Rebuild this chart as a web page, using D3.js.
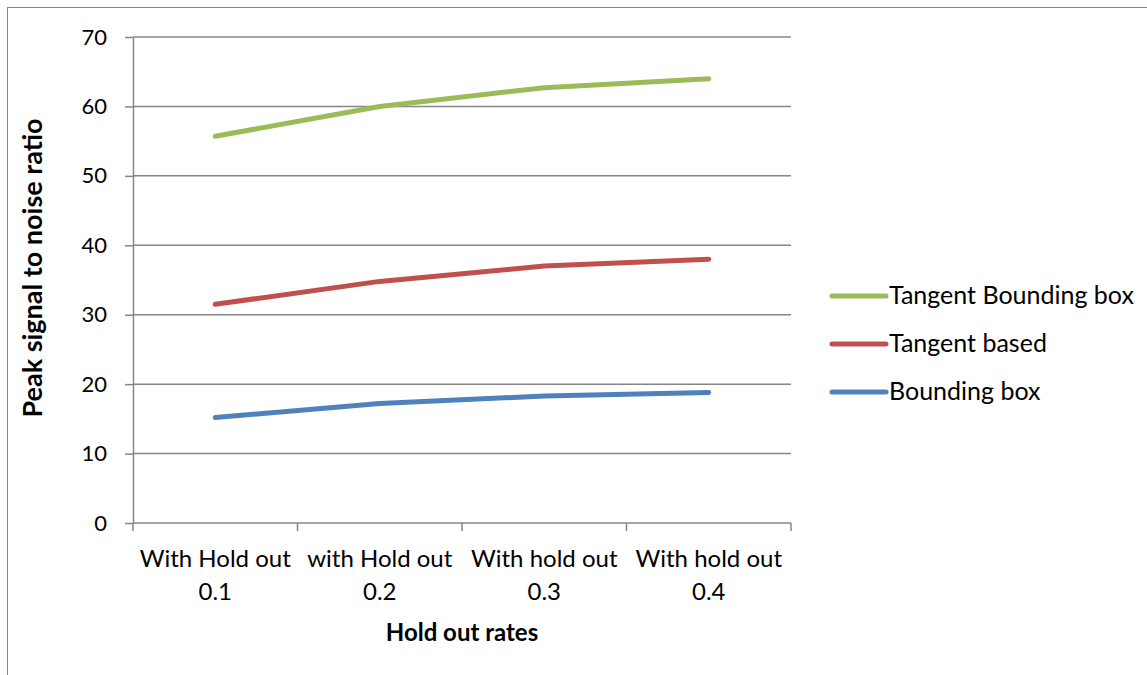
<!DOCTYPE html>
<html>
<head>
<meta charset="utf-8">
<script src="https://cdn.jsdelivr.net/npm/d3@7"></script>
<style>
  html, body { margin: 0; padding: 0; background: #fff; }
  svg { display: block; }
  text { font-family: Lato, "Open Sans", sans-serif; fill: #000; }
</style>
</head>
<body>
<svg id="chart" width="1147" height="675"></svg>
<script>
// Hold-out categories (two-line labels)
const categories = [
  ["With Hold out", "0.1"],
  ["with Hold out", "0.2"],
  ["With hold out", "0.3"],
  ["With hold out", "0.4"]
];
const seriesNames = ["Tangent Bounding box", "Tangent based", "Bounding box"];
const tangentBoundingBox = [55.7, 60.0, 62.7, 64.0];
const tangentBased = [31.5, 34.8, 37.0, 38.0];
const boundingBox = [15.2, 17.2, 18.3, 18.8];
const yTicks = [0, 10, 20, 30, 40, 50, 60, 70];

const series = [
  { name: seriesNames[0], values: tangentBoundingBox, color: "#9BBB59" },
  { name: seriesNames[1], values: tangentBased, color: "#C0504D" },
  { name: seriesNames[2], values: boundingBox, color: "#4F81BD" }
];

const svg = d3.select("#chart");
const plot = { left: 133, right: 791, top: 37, bottom: 523 };
const axisColor = "#868686";

// chart area frame
svg.append("rect")
  .attr("x", 7.5).attr("y", 7.5)
  .attr("width", 1200).attr("height", 700)
  .attr("fill", "none").attr("stroke", axisColor).attr("stroke-width", 1);

const x = d3.scaleBand()
  .domain(categories.map((d, i) => i))
  .range([plot.left, plot.right])
  .paddingInner(0).paddingOuter(0);

const y = d3.scaleLinear().domain([0, 70]).range([plot.bottom, plot.top]);

// horizontal gridlines
svg.append("g")
  .selectAll("line")
  .data(yTicks.filter(t => t > 0))
  .join("line")
  .attr("x1", plot.left).attr("x2", plot.right)
  .attr("y1", d => y(d)).attr("y2", d => y(d))
  .attr("stroke", axisColor).attr("stroke-width", 1.5);

// y axis
const yAxis = svg.append("g")
  .attr("transform", `translate(${plot.left},0)`)
  .call(d3.axisLeft(y).tickValues(yTicks).tickSize(8).tickPadding(18).tickSizeOuter(0));
yAxis.select(".domain").attr("stroke", axisColor).attr("stroke-width", 1.5);
yAxis.selectAll(".tick line").attr("stroke", axisColor).attr("stroke-width", 1.5);
yAxis.selectAll(".tick text").style("font-size", "22px").style("font-family", "Lato, sans-serif").attr("fill", "#000");

// x axis with boundary ticks between categories
const xAxisG = svg.append("g").attr("transform", `translate(0,${plot.bottom})`);
xAxisG.append("line")
  .attr("x1", plot.left).attr("x2", plot.right)
  .attr("stroke", axisColor).attr("stroke-width", 1.5);
const boundaries = categories.map((d, i) => x(i)).concat([x(categories.length - 1) + x.bandwidth()]);
xAxisG.selectAll("line.tick")
  .data(boundaries)
  .join("line")
  .attr("class", "tick")
  .attr("x1", d => d).attr("x2", d => d)
  .attr("y1", 0).attr("y2", 8)
  .attr("stroke", axisColor).attr("stroke-width", 1.5);
const labels = xAxisG.selectAll("text.cat")
  .data(categories)
  .join("text")
  .attr("class", "cat")
  .attr("text-anchor", "middle")
  .style("font-size", "24px");
labels.append("tspan")
  .attr("x", (d, i) => x(i) + x.bandwidth() / 2)
  .attr("y", 44)
  .text(d => d[0]);
labels.append("tspan")
  .attr("x", (d, i) => x(i) + x.bandwidth() / 2)
  .attr("y", 77)
  .text(d => d[1]);

// axis titles
svg.append("text")
  .attr("x", (plot.left + plot.right) / 2)
  .attr("y", 641)
  .attr("text-anchor", "middle")
  .style("font-size", "24px").style("font-weight", "bold")
  .text("Hold out rates");

svg.append("text")
  .attr("transform", "translate(42,268) rotate(-90)")
  .attr("text-anchor", "middle")
  .style("font-size", "27px").style("font-weight", "bold")
  .text("Peak signal to noise ratio");

// series lines
const line = d3.line()
  .x((d, i) => x(i) + x.bandwidth() / 2)
  .y(d => y(d));

svg.append("g")
  .selectAll("path")
  .data(series)
  .join("path")
  .attr("d", d => line(d.values))
  .attr("fill", "none")
  .attr("stroke", d => d.color)
  .attr("stroke-width", 5)
  .attr("stroke-linecap", "round")
  .attr("stroke-linejoin", "round");

// legend
const legend = svg.append("g").attr("transform", "translate(832,296)");
const items = legend.selectAll("g")
  .data(series)
  .join("g")
  .attr("transform", (d, i) => `translate(0,${i * 48})`);
items.append("line")
  .attr("x1", 0).attr("x2", 54)
  .attr("stroke", d => d.color)
  .attr("stroke-width", 5)
  .attr("stroke-linecap", "round");
items.append("text")
  .attr("x", 57).attr("y", 8)
  .style("font-size", "25px")
  .text(d => d.name);
</script>
</body>
</html>
